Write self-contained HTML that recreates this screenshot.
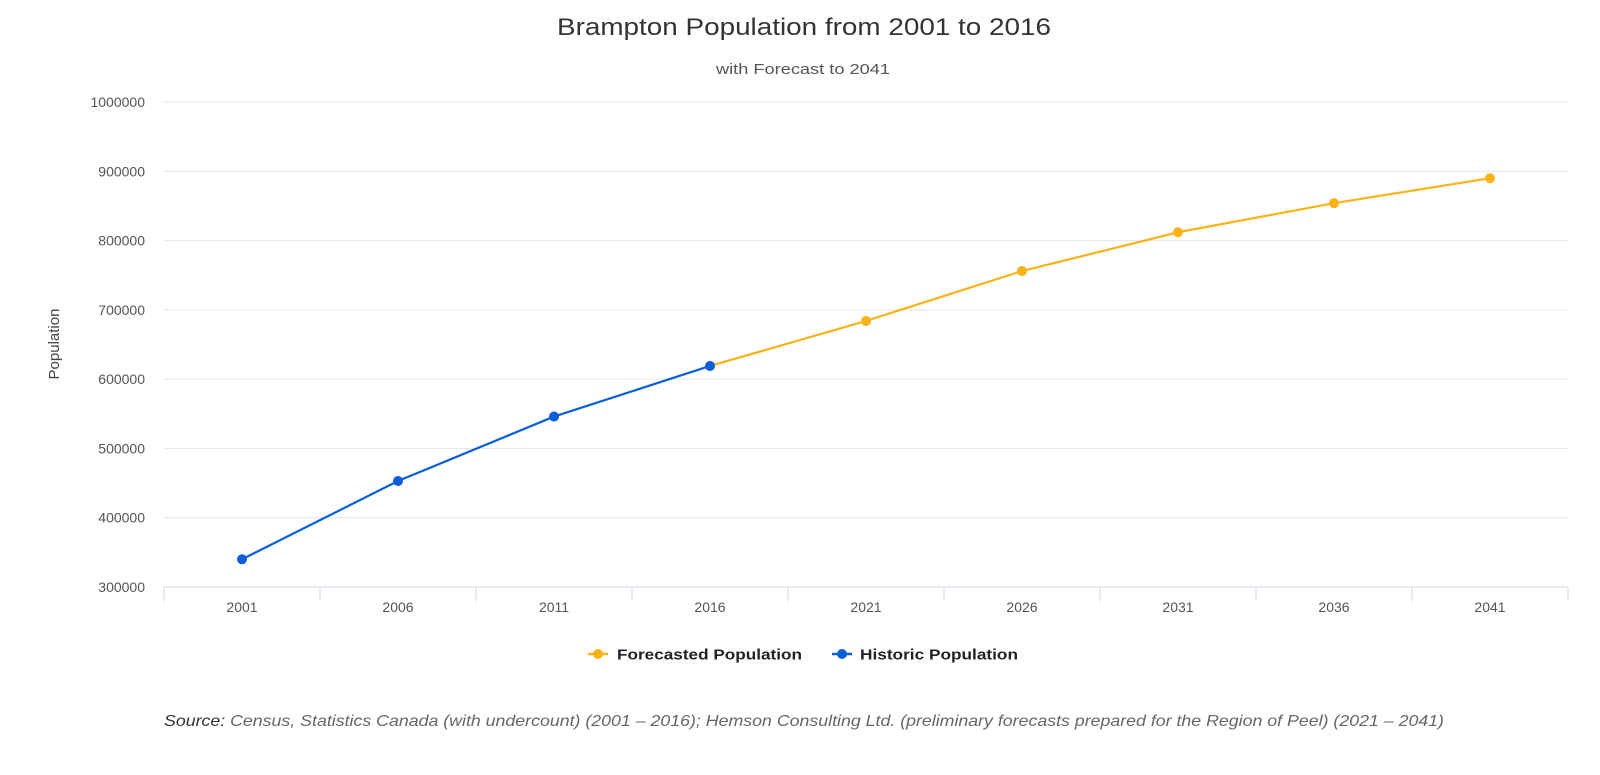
<!DOCTYPE html>
<html><head><meta charset="utf-8"><style>
body{margin:0;background:#fff;width:1600px;height:770px;overflow:hidden;font-family:"Liberation Sans",sans-serif}
</style></head><body>
<svg id="chart" width="1600" height="770" xmlns="http://www.w3.org/2000/svg" font-family="Liberation Sans, sans-serif">
<text x="557" y="35" font-size="24" fill="#333" textLength="494" lengthAdjust="spacingAndGlyphs">Brampton Population from 2001 to 2016</text>
<text x="716" y="74" font-size="15" fill="#555" textLength="174" lengthAdjust="spacingAndGlyphs">with Forecast to 2041</text>
<text transform="translate(59,344) rotate(-90)" text-anchor="middle" font-size="15" fill="#444">Population</text>
<g id="grid"></g><g id="axes"></g><g id="series"></g>
<g>
<g>
<line x1="588" y1="654" x2="608" y2="654" stroke="#fbb217" stroke-width="2.5"/><circle cx="598" cy="654" r="5" fill="#fbb217"/>
<text x="617" y="659.5" font-size="15" font-weight="bold" fill="#222" textLength="185" lengthAdjust="spacingAndGlyphs">Forecasted Population</text></g>
<g>
<line x1="832" y1="654" x2="852" y2="654" stroke="#0a5ed7" stroke-width="2.5"/><circle cx="842" cy="654" r="5" fill="#0a5ed7"/>
<text x="860" y="659.5" font-size="15" font-weight="bold" fill="#222" textLength="158" lengthAdjust="spacingAndGlyphs">Historic Population</text></g>
</g>
<text x="164" y="726" font-size="16" font-style="italic" fill="#666" textLength="1280" lengthAdjust="spacingAndGlyphs"><tspan fill="#333">Source:</tspan> Census, Statistics Canada (with undercount) (2001 – 2016); Hemson Consulting Ltd. (preliminary forecasts prepared for the Region of Peel) (2021 – 2041)</text>
</svg>
<script>
const categories=["2001","2006","2011","2016","2021","2026","2031","2036","2041"];
const historic=[340000,453000,546000,619000,null,null,null,null,null];
const forecast=[null,null,null,619000,684000,756000,812000,854000,890000];
const yTicks=[300000,400000,500000,600000,700000,800000,900000,1000000];
const NS="http://www.w3.org/2000/svg";
const L=164,R=1568,T=102,B=587,yMin=300000,yMax=1000000;
const bw=(R-L)/categories.length;
const x=i=>L+bw*(i+0.5);
const y=v=>B-(v-yMin)/(yMax-yMin)*(B-T);
function mk(t,a,p){const e=document.createElementNS(NS,t);for(const k in a)e.setAttribute(k,a[k]);p.appendChild(e);return e;}
const grid=document.getElementById('grid'),axes=document.getElementById('axes'),ser=document.getElementById('series');
yTicks.forEach(v=>{
 const g=mk('line',{x1:L,x2:R,y1:y(v),y2:y(v),stroke:v===yMin?'#ccd6eb':'#e6e6e6','stroke-width':1},grid);
 
 
 const t=mk('text',{x:145,y:y(v)+5,'text-anchor':'end','font-size':14,fill:'#555'},axes);t.textContent=v;
 
 
});
for(let i=0;i<=categories.length;i++){
 const tk=mk('line',{x1:L+bw*i,x2:L+bw*i,y1:B,y2:B+14,stroke:'#ccd6eb'},axes);
 
 
}
categories.forEach((c,i)=>{
 const t=mk('text',{x:x(i),y:612,'text-anchor':'middle','font-size':14,fill:'#555'},axes);t.textContent=c;
 
 
});
function draw(data,color,name){
 const pts=[];data.forEach((v,i)=>{if(v!==null)pts.push([x(i),y(v)]);});
 const p=mk('polyline',{points:pts.map(p=>p.join(',')).join(' '),fill:'none',stroke:color,'stroke-width':2.2},ser);
 
 
 pts.forEach(q=>{const c=mk('circle',{cx:q[0],cy:q[1],r:5,fill:color},ser);
  
  });
}
draw(forecast,'#fbb217','forecast');
draw(historic,'#0a5ed7','historic');
</script>
</body></html>
